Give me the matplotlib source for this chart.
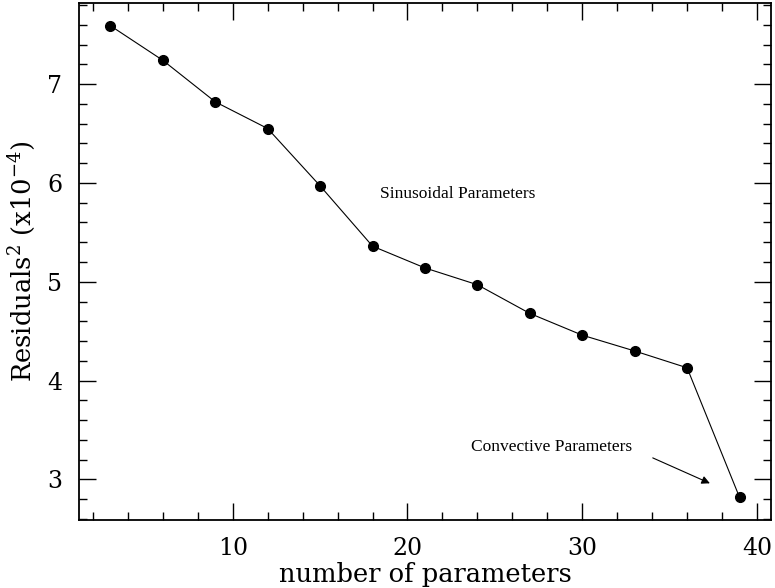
import matplotlib
matplotlib.use("Agg")
import matplotlib.pyplot as plt
from matplotlib.ticker import MultipleLocator

n_params = [3, 6, 9, 12, 15, 18, 21, 24, 27, 30, 33, 36, 39]
residuals = [7.59, 7.24, 6.82, 6.55, 5.97, 5.36, 5.14, 4.97, 4.68, 4.46, 4.30, 4.13, 2.82]

plt.rcParams['mathtext.fontset'] = 'dejavuserif'

FONT = 'DejaVu Serif'

fig = plt.figure(figsize=(7.75, 5.88), dpi=100)
ax = fig.add_axes([0.1019, 0.1156, 0.8929, 0.8793])

ax.plot(n_params, residuals, color='black', lw=0.8, marker='o', ms=7, mfc='black', mec='black')

ax.set_xlim(1.2, 40.8)
ax.set_ylim(2.59, 7.82)
ax.xaxis.set_major_locator(MultipleLocator(10))
ax.xaxis.set_minor_locator(MultipleLocator(2))
ax.yaxis.set_major_locator(MultipleLocator(1))
ax.yaxis.set_minor_locator(MultipleLocator(0.2))
ax.tick_params(which='both', direction='in', top=True, right=True, width=1)
ax.tick_params(which='major', length=12, labelsize=17, pad=12)
ax.tick_params(which='minor', length=6)
for lbl in ax.get_xticklabels() + ax.get_yticklabels():
    lbl.set_family(FONT)
for s in ax.spines.values():
    s.set_linewidth(1.3)

ax.set_xlabel('number of parameters', family=FONT, fontsize=18.5, labelpad=2)
ax.set_ylabel('Residuals$^2$ (x10$^{-4}$)', family=FONT, fontsize=18.5, labelpad=7)

ax.text(22.85, 5.89, 'Sinusoidal Parameters', family='Liberation Serif', fontsize=12.5,
        ha='center', va='center')
ax.text(28.23, 3.33, 'Convective Parameters', family='Liberation Serif', fontsize=12.5,
        ha='center', va='center')
ax.annotate('', xy=(37.45, 2.95), xytext=(33.89, 3.23),
            arrowprops=dict(arrowstyle='-|>', color='black', lw=0.8, mutation_scale=12))

fig.savefig('out.png', dpi=100)
